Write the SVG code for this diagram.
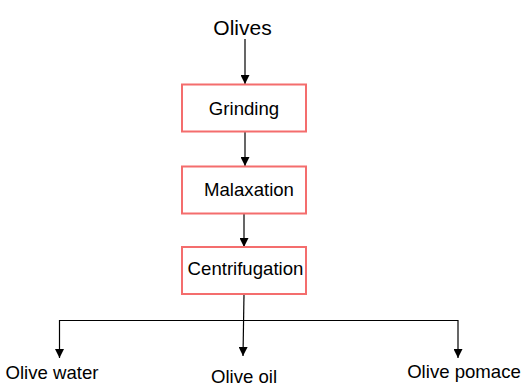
<svg xmlns="http://www.w3.org/2000/svg" width="526" height="389" viewBox="0 0 526 389">
<style>
.box{fill:#fff;stroke:#f46d6d;stroke-width:2}
.t{font-family:"Liberation Sans",Arial,sans-serif;fill:#000;text-anchor:middle}
.n{font-size:18.6px}
.c{stroke:#000;stroke-width:1.2;fill:none}
</style>
<defs>
<marker id="ah" viewBox="0 0 10 10" refX="10" refY="5" markerWidth="9" markerHeight="9" markerUnits="userSpaceOnUse" orient="auto">
<path d="M0,0L10,5L0,10z" fill="#000"/>
</marker>
</defs>
<rect width="526" height="389" fill="#fff"/>
<g id="connectors">
<line class="c" x1="245" y1="39" x2="245" y2="84" marker-end="url(#ah)"/>
<line class="c" x1="245" y1="132" x2="245" y2="166" marker-end="url(#ah)"/>
<line class="c" x1="244" y1="214" x2="244" y2="247" marker-end="url(#ah)"/>
<line class="c" x1="244" y1="294" x2="243" y2="356" marker-end="url(#ah)"/>
<line class="c" x1="59.5" y1="320.5" x2="458" y2="320.5"/>
<line class="c" x1="59.5" y1="320" x2="59.5" y2="358" marker-end="url(#ah)"/>
<line class="c" x1="458" y1="320" x2="458" y2="358" marker-end="url(#ah)"/>
</g>
<g id="olives"><text class="t" x="242.5" y="35" font-size="21">Olives</text></g>
<g id="grinding"><rect class="box" x="182" y="84.5" width="124" height="47"/><text class="t n" x="244" y="115">Grinding</text></g>
<g id="malaxation"><rect class="box" x="182" y="166.5" width="124" height="47"/><text class="t n" x="249" y="196">Malaxation</text></g>
<g id="centrifugation"><rect class="box" x="182" y="247" width="124" height="47"/><text class="t n" x="245.5" y="275">Centrifugation</text></g>
<g id="olive-water"><text class="t n" x="52" y="379.3">Olive water</text></g>
<g id="olive-oil"><text class="t n" x="244" y="382.5">Olive oil</text></g>
<g id="olive-pomace"><text class="t n" x="464" y="378.3">Olive pomace</text></g>
</svg>
